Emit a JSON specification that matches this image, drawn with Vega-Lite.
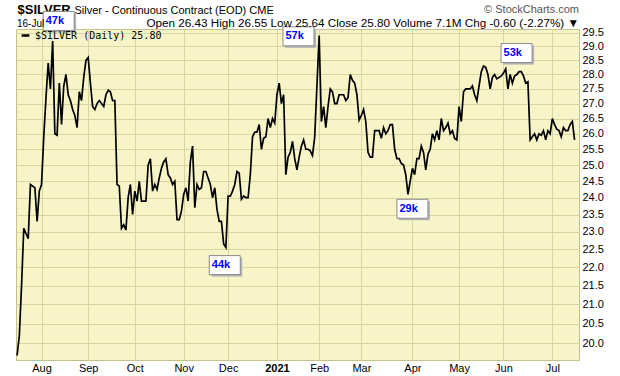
{
  "$schema": "https://vega.github.io/schema/vega-lite/v6.json",
  "width": 563,
  "height": 331,
  "autosize": {"type": "none"},
  "padding": {"left": 16, "top": 29, "right": 41, "bottom": 16},
  "background": "white",
  "config": {
    "view": {"stroke": "#c6c08a", "fill": "#f7f5c8", "strokeWidth": 1},
    "font": "Liberation Sans"
  },
  "title": {
    "text": "© StockCharts.com",
    "subtitle": "Open 26.43  High 26.55  Low 25.64  Close 25.80  Volume 7.1M  Chg -0.60 (-2.27%) ▼",
    "anchor": "end",
    "frame": "group",
    "offset": 0,
    "dy": 26.5,
    "font": "Liberation Sans",
    "fontSize": 11,
    "fontWeight": "normal",
    "color": "#555555",
    "subtitleFont": "Liberation Sans",
    "subtitleFontSize": 11.7,
    "subtitleFontWeight": "normal",
    "subtitleColor": "#000000",
    "subtitlePadding": 3
  },
  "datasets": {
    "px": [
      {"t":0,"price":19.7},{"t":1,"price":20.2},{"t":2,"price":21.5},{"t":3,"price":23.1},{"t":4,"price":22.95},{"t":5,"price":22.8},{"t":6,"price":24.4},{"t":7,"price":24.35},{"t":8,"price":24.3},{"t":9,"price":23.3},
      {"t":10,"price":24.2},{"t":11,"price":24.4},{"t":12,"price":25.9},{"t":13,"price":27.2},{"t":14,"price":28.4},{"t":15,"price":27.5},{"t":16,"price":29.2},{"t":17,"price":26.0},{"t":18,"price":25.95},{"t":19,"price":27.7},
      {"t":20,"price":26.3},{"t":21,"price":27.6},{"t":22,"price":28.0},{"t":23,"price":27.3},{"t":24,"price":27.1},{"t":25,"price":26.8},{"t":26,"price":26.6},{"t":27,"price":26.2},{"t":28,"price":27.4},{"t":29,"price":27.1},
      {"t":30,"price":27.9},{"t":31,"price":28.5},{"t":32,"price":28.6},{"t":33,"price":27.7},{"t":34,"price":26.9},{"t":35,"price":26.8},{"t":36,"price":27.0},{"t":37,"price":27.1},{"t":38,"price":27.0},{"t":39,"price":26.9},
      {"t":40,"price":27.3},{"t":41,"price":27.45},{"t":42,"price":27.4},{"t":43,"price":27.1},{"t":44,"price":27.1},{"t":45,"price":24.4},{"t":46,"price":24.35},{"t":47,"price":23.1},{"t":48,"price":23.2},{"t":49,"price":23.05},
      {"t":50,"price":24.0},{"t":51,"price":24.4},{"t":52,"price":23.5},{"t":53,"price":24.2},{"t":54,"price":23.9},{"t":55,"price":24.5},{"t":56,"price":23.9},{"t":57,"price":23.9},{"t":58,"price":23.9},{"t":59,"price":25.0},
      {"t":60,"price":25.2},{"t":61,"price":24.2},{"t":62,"price":24.4},{"t":63,"price":24.25},{"t":64,"price":24.6},{"t":65,"price":24.9},{"t":66,"price":25.1},{"t":67,"price":25.2},{"t":68,"price":24.7},{"t":69,"price":24.6},
      {"t":70,"price":24.4},{"t":71,"price":24.5},{"t":72,"price":23.35},{"t":73,"price":23.35},{"t":74,"price":23.6},{"t":75,"price":24.1},{"t":76,"price":24.3},{"t":77,"price":23.9},{"t":78,"price":25.1},{"t":79,"price":25.6},
      {"t":80,"price":23.7},{"t":81,"price":24.4},{"t":82,"price":24.25},{"t":83,"price":24.3},{"t":84,"price":24.8},{"t":85,"price":24.8},{"t":86,"price":24.6},{"t":87,"price":24.4},{"t":88,"price":24.0},{"t":89,"price":24.3},
      {"t":90,"price":23.65},{"t":91,"price":23.3},{"t":92,"price":23.3},{"t":93,"price":22.65},{"t":94,"price":22.55},{"t":95,"price":24.05},{"t":96,"price":24.05},{"t":97,"price":24.2},{"t":98,"price":24.4},{"t":99,"price":24.8},
      {"t":100,"price":24.75},{"t":101,"price":23.95},{"t":102,"price":24.05},{"t":103,"price":24.0},{"t":104,"price":24.0},{"t":105,"price":24.7},{"t":106,"price":25.9},{"t":107,"price":26.05},{"t":108,"price":26.05},{"t":109,"price":26.3},
      {"t":110,"price":25.5},{"t":111,"price":25.85},{"t":112,"price":25.9},{"t":113,"price":26.5},{"t":114,"price":26.2},{"t":115,"price":26.5},{"t":116,"price":26.35},{"t":117,"price":27.3},{"t":118,"price":27.7},{"t":119,"price":27.0},
      {"t":120,"price":27.3},{"t":121,"price":24.7},{"t":122,"price":25.25},{"t":123,"price":25.4},{"t":124,"price":25.75},{"t":125,"price":25.2},{"t":126,"price":24.85},{"t":127,"price":25.25},{"t":128,"price":25.6},{"t":129,"price":25.8},
      {"t":130,"price":25.5},{"t":131,"price":25.5},{"t":132,"price":25.45},{"t":133,"price":25.3},{"t":134,"price":25.9},{"t":135,"price":27.6},{"t":136,"price":29.4},{"t":137,"price":26.4},{"t":138,"price":26.9},{"t":139,"price":26.2},
      {"t":140,"price":26.9},{"t":141,"price":27.5},{"t":142,"price":27.4},{"t":143,"price":27.0},{"t":144,"price":27.0},{"t":145,"price":27.3},{"t":146,"price":27.3},{"t":147,"price":27.3},{"t":148,"price":27.1},{"t":149,"price":27.2},
      {"t":150,"price":28.0},{"t":151,"price":27.8},{"t":152,"price":27.7},{"t":153,"price":27.3},{"t":154,"price":26.45},{"t":155,"price":26.6},{"t":156,"price":26.8},{"t":157,"price":26.4},{"t":158,"price":25.4},{"t":159,"price":25.25},
      {"t":160,"price":25.25},{"t":161,"price":26.1},{"t":162,"price":26.1},{"t":163,"price":26.1},{"t":164,"price":25.85},{"t":165,"price":26.2},{"t":166,"price":26.0},{"t":167,"price":26.1},{"t":168,"price":26.3},{"t":169,"price":26.3},
      {"t":170,"price":25.5},{"t":171,"price":25.2},{"t":172,"price":25.2},{"t":173,"price":25.05},{"t":174,"price":25.0},{"t":175,"price":24.7},{"t":176,"price":24.1},{"t":177,"price":24.5},{"t":178,"price":24.9},{"t":179,"price":24.7},
      {"t":180,"price":25.2},{"t":181,"price":25.2},{"t":182,"price":25.6},{"t":183,"price":25.4},{"t":184,"price":24.85},{"t":185,"price":25.35},{"t":186,"price":25.5},{"t":187,"price":26.0},{"t":188,"price":25.8},{"t":189,"price":26.1},
      {"t":190,"price":25.8},{"t":191,"price":26.5},{"t":192,"price":26.1},{"t":193,"price":26.2},{"t":194,"price":26.35},{"t":195,"price":26.0},{"t":196,"price":26.1},{"t":197,"price":25.85},{"t":198,"price":25.8},{"t":199,"price":26.9},
      {"t":200,"price":26.4},{"t":201,"price":27.4},{"t":202,"price":27.5},{"t":203,"price":27.5},{"t":204,"price":27.5},{"t":205,"price":27.6},{"t":206,"price":27.3},{"t":207,"price":27.1},{"t":208,"price":27.6},{"t":209,"price":28.1},
      {"t":210,"price":28.3},{"t":211,"price":28.25},{"t":212,"price":28.0},{"t":213,"price":27.5},{"t":214,"price":27.9},{"t":215,"price":28.0},{"t":216,"price":27.85},{"t":217,"price":27.9},{"t":218,"price":27.95},{"t":219,"price":28.05},
      {"t":220,"price":28.2},{"t":221,"price":27.5},{"t":222,"price":28.0},{"t":223,"price":27.7},{"t":224,"price":27.95},{"t":225,"price":28.0},{"t":226,"price":28.1},{"t":227,"price":28.1},{"t":228,"price":27.95},{"t":229,"price":27.7},
      {"t":230,"price":27.75},{"t":231,"price":25.8},{"t":232,"price":25.9},{"t":233,"price":26.0},{"t":234,"price":25.8},{"t":235,"price":26.0},{"t":236,"price":25.95},{"t":237,"price":26.1},{"t":238,"price":25.8},{"t":239,"price":26.1},
      {"t":240,"price":26.0},{"t":241,"price":26.5},{"t":242,"price":26.3},{"t":243,"price":26.15},{"t":244,"price":26.1},{"t":245,"price":25.9},{"t":246,"price":26.2},{"t":247,"price":26.1},{"t":248,"price":26.1},{"t":249,"price":26.3},
      {"t":250,"price":26.4},{"t":251,"price":25.8}
    ],
    "vol": [
      {"label": "47k", "t": 18.7, "price": 29.94},
      {"label": "57k", "t": 126.7, "price": 29.37},
      {"label": "44k", "t": 93.5, "price": 22.06},
      {"label": "29k", "t": 178.0, "price": 23.67},
      {"label": "53k", "t": 224.9, "price": 28.76}
    ]
  },
  "encoding": {
    "x": {
      "field": "t",
      "type": "quantitative",
      "scale": {"domain": [-0.5, 253], "nice": false, "zero": false},
      "axis": {
        "values": [11, 32, 53, 75, 95, 117, 136, 155, 178, 199, 219, 241],
        "labelExpr": "datum.value==11?'Aug':datum.value==32?'Sep':datum.value==53?'Oct':datum.value==75?'Nov':datum.value==95?'Dec':datum.value==117?'2021':datum.value==136?'Feb':datum.value==155?'Mar':datum.value==178?'Apr':datum.value==199?'May':datum.value==219?'Jun':'Jul'",
        "grid": true,
        "gridColor": "#d5d6a0",
        "gridOpacity": 1,
        "ticks": false,
        "domain": false,
        "labelPadding": 2,
        "labelFont": "Liberation Sans",
        "labelFontSize": 11,
        "labelColor": "#000000",
        "labelFontWeight": {"condition": {"test": "datum.value == 117", "value": "bold"}, "value": "normal"},
        "labelFlush": false,
        "labelOverlap": false,
        "title": "$SILVER",
        "titleX": 1,
        "titleY": -347,
        "titleAlign": "left",
        "titleBaseline": "alphabetic",
        "titleAngle": 0,
        "titleFont": "Liberation Sans",
        "titleFontSize": 13,
        "titleFontWeight": "bold",
        "titleColor": "#000000"
      }
    },
    "y": {
      "field": "price",
      "type": "quantitative",
      "scale": {"type": "log", "domain": [19.59, 29.64], "nice": false, "zero": false},
      "axis": {
        "orient": "right",
        "values": [20, 20.5, 21, 21.5, 22, 22.5, 23, 23.5, 24, 24.5, 25, 25.5, 26, 26.5, 27, 27.5, 28, 28.5, 29, 29.5],
        "format": ".1f",
        "grid": true,
        "gridColor": "#d5d6a0",
        "gridOpacity": 1,
        "ticks": false,
        "domain": false,
        "labelPadding": 3,
        "labelFont": "Liberation Sans",
        "labelFontSize": 11,
        "labelColor": "#000000",
        "labelOverlap": false,
        "labelFlush": false,
        "title": "Silver - Continuous Contract (EOD)  CME",
        "titleAngle": 0,
        "titleX": -505,
        "titleY": -16,
        "titleAlign": "left",
        "titleBaseline": "alphabetic",
        "titleFont": "Liberation Sans",
        "titleFontSize": 11,
        "titleFontWeight": "normal",
        "titleColor": "#000000"
      }
    }
  },
  "layer": [
    {
      "data": {"name": "px"},
      "mark": {"type": "line", "color": "#000000", "strokeWidth": 1.7},
      "encoding": {
        "color": {
          "datum": "$SILVER (Daily) 25.80",
          "scale": {"range": ["#000000"]},
          "legend": {
            "orient": "none",
            "legendX": 1,
            "legendY": -10,
            "title": "16-Jul",
            "titleFont": "Liberation Sans",
            "titleFontSize": 10,
            "titleFontWeight": "normal",
            "titleColor": "#000000",
            "titlePadding": 1,
            "padding": 0,
            "symbolType": "stroke",
            "symbolStrokeWidth": 2.5,
            "symbolSize": 60,
            "symbolOffset": 3,
            "labelFont": "DejaVu Sans Mono",
            "labelFontSize": 10,
            "labelOffset": 4,
            "labelColor": "#000000"
          }
        }
      }
    },
    {
      "data": {"name": "vol"},
      "mark": {"type": "point", "shape": "M-1,-0.613H1V0.613H-1Z", "size": 961, "filled": true, "color": "#b4b4b4", "opacity": 1, "xOffset": 2, "yOffset": 2}
    },
    {
      "data": {"name": "vol"},
      "mark": {"type": "point", "shape": "M-1,-0.613H1V0.613H-1Z", "size": 961, "filled": true, "fill": "#ffffff", "stroke": "#8a8a8a", "strokeWidth": 1, "opacity": 1}
    },
    {
      "data": {"name": "vol"},
      "mark": {"type": "text", "align": "left", "baseline": "middle", "dx": -13, "font": "Liberation Sans", "fontSize": 11, "fontWeight": "bold", "color": "#0000ff"},
      "encoding": {"text": {"field": "label"}}
    }
  ]
}
